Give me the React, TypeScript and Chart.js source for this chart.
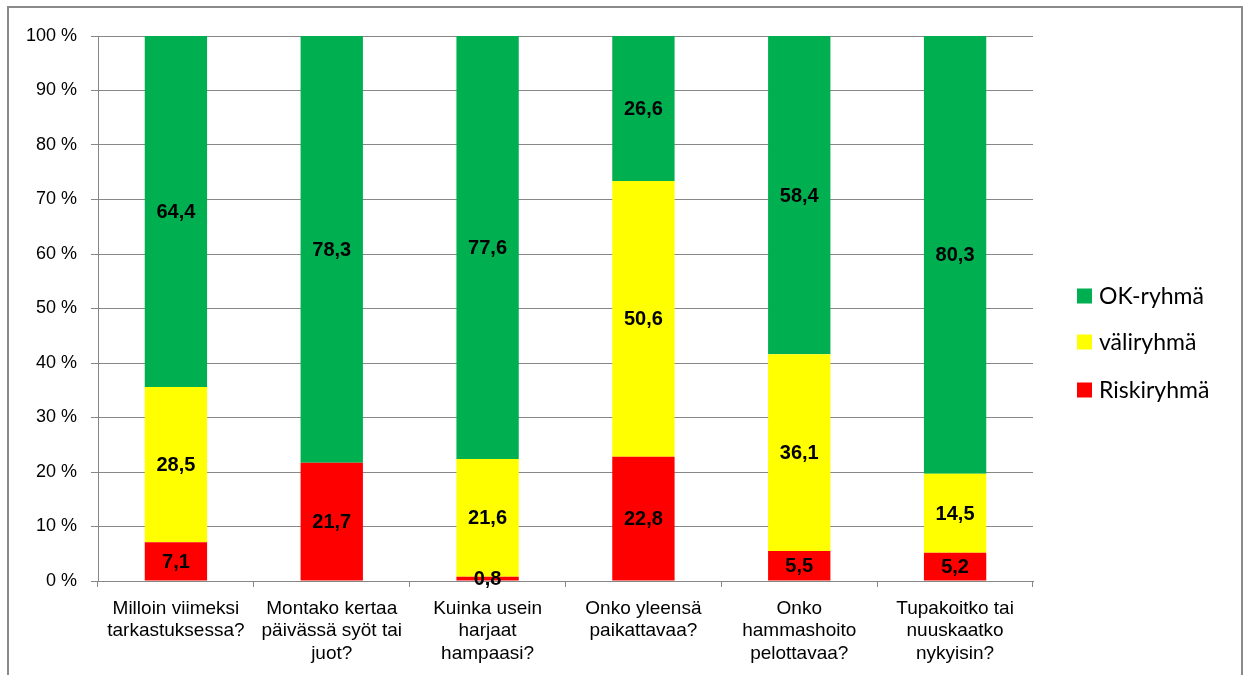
import React, { useEffect, useRef } from "react";
import { Chart, registerables } from "chart.js";

Chart.register(...registerables);

const categories: string[][] = [
  ["Milloin viimeksi", "tarkastuksessa?"],
  ["Montako kertaa", "päivässä syöt tai", "juot?"],
  ["Kuinka usein", "harjaat", "hampaasi?"],
  ["Onko yleensä", "paikattavaa?"],
  ["Onko", "hammashoito", "pelottavaa?"],
  ["Tupakoitko tai", "nuuskaatko", "nykyisin?"],
];
const riskiValues = [7.1, 21.7, 0.8, 22.8, 5.5, 5.2];
const valiValues = [28.5, 0, 21.6, 50.6, 36.1, 14.5];
const okValues = [64.4, 78.3, 77.6, 26.6, 58.4, 80.3];
const yTicks = [0, 10, 20, 30, 40, 50, 60, 70, 80, 90, 100];

const GRID = "#878787";

const labelPlugin = {
  id: "segLabels",
  afterDatasetsDraw(chart: any) {
    const ctx = chart.ctx;
    ctx.save();
    ctx.font = "bold 20px 'Liberation Sans', Arial, sans-serif";
    ctx.fillStyle = "#000";
    ctx.textAlign = "center";
    ctx.textBaseline = "middle";
    chart.data.datasets.forEach((ds: any, di: number) => {
      const meta = chart.getDatasetMeta(di);
      meta.data.forEach((bar: any, i: number) => {
        const v = ds.data[i];
        if (!v) return;
        const y = (bar.y + bar.base) / 2;
        ctx.fillText(v.toFixed(1).replace(".", ","), bar.x, y + 1);
      });
    });
    ctx.restore();
  },
};

const legendPlugin = {
  id: "customLegend",
  afterDraw(chart: any) {
    const ctx = chart.ctx;
    const items = [...chart.data.datasets].reverse();
    const boxX = 1068;
    const textX = 1090;
    const ys = [288, 334, 382];
    ctx.save();
    ctx.font = "23px Lato, 'Open Sans', sans-serif";
    ctx.textAlign = "left";
    ctx.textBaseline = "middle";
    items.forEach((ds: any, i: number) => {
      ctx.fillStyle = ds.backgroundColor;
      ctx.fillRect(boxX, ys[i] - 7.5, 15, 15);
      ctx.fillStyle = "#000";
      ctx.fillText(ds.label, textX, ys[i] + 1);
    });
    ctx.restore();
  },
};

export default function App() {
  const ref = useRef<HTMLCanvasElement | null>(null);
  useEffect(() => {
    if (!ref.current) return;
    const chart = new Chart(ref.current, {
      type: "bar",
      data: {
        labels: categories,
        datasets: [
          { label: "Riskiryhmä", data: riskiValues, backgroundColor: "#FF0000", barPercentage: 0.4, categoryPercentage: 1 },
          { label: "väliryhmä", data: valiValues, backgroundColor: "#FFFF00", barPercentage: 0.4, categoryPercentage: 1 },
          { label: "OK-ryhmä", data: okValues, backgroundColor: "#00B050", barPercentage: 0.4, categoryPercentage: 1 },
        ],
      },
      options: {
        animation: false,
        responsive: false,
        maintainAspectRatio: false,
        layout: { padding: { top: 28, right: 208, left: 0, bottom: 0 } },
        plugins: {
          legend: { display: false },
          tooltip: { enabled: false },
        },
        scales: {
          x: {
            stacked: true,
            grid: {
              display: true,
              drawOnChartArea: false,
              drawTicks: true,
              tickLength: 6,
              color: GRID,
              lineWidth: 1,
              offset: true,
            },
            border: { display: true, color: GRID, width: 1 },
            ticks: {
              color: "#000",
              font: { family: "'Liberation Sans', Arial, sans-serif", size: 19, lineHeight: 1.2 },
              padding: 10,
              maxRotation: 0,
              autoSkip: false,
            },
            afterFit(scale: any) {
              scale.height = 119;
            },
          },
          y: {
            stacked: true,
            min: 0,
            max: 100,
            afterBuildTicks(scale: any) {
              scale.ticks = yTicks.map((v) => ({ value: v }));
            },
            grid: {
              color: GRID,
              lineWidth: 1,
              tickLength: 7,
              drawTicks: true,
            },
            border: { display: true, color: GRID, width: 1 },
            ticks: {
              color: "#000",
              font: { family: "'Liberation Sans', Arial, sans-serif", size: 18 },
              padding: 14,
              callback: (v: any) => v + " %",
            },
            afterFit(scale: any) {
              scale.width = 89;
            },
          },
        },
      },
      plugins: [labelPlugin, legendPlugin],
    });
    return () => chart.destroy();
  }, []);

  return (
    <div
      style={{
        position: "absolute",
        left: 7,
        top: 6,
        width: 1232,
        height: 692,
        border: "2px solid #8a8a8a",
        background: "#fff",
      }}
    >
      <canvas ref={ref} width={1232} height={692} style={{ display: "block" }} />
    </div>
  );
}
